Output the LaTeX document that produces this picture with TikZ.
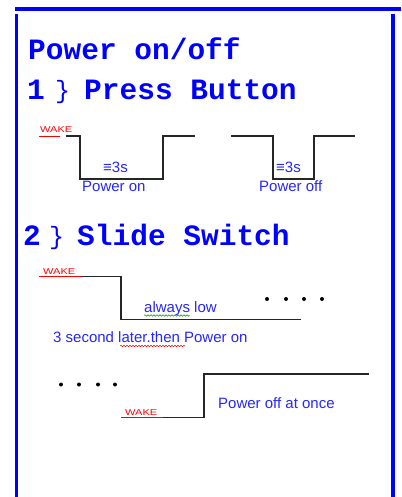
\documentclass[tikz,border=0pt]{standalone}
\usepackage{fontspec}
\usepackage{graphicx}
\usetikzlibrary{decorations.pathmorphing}
\newfontfamily\headfont{Liberation Mono}
\newfontfamily\notefont{Liberation Sans}
\begin{document}
\begin{tikzpicture}[x=1pt,y=-1pt,
    head/.style={anchor=base west,inner sep=0pt,text=blue,font=\headfont\bfseries\fontsize{29.5}{30}\selectfont},
    brace/.style={anchor=base west,inner sep=0pt,text=blue,font=\headfont\fontsize{25}{26}\selectfont},
    note/.style={anchor=base west,inner sep=0pt,text=blue!85!white,font=\notefont\fontsize{15}{16}\selectfont},
    wake/.style={anchor=base west,inner sep=0pt,text=red,font=\notefont\fontsize{8.5}{9}\selectfont},
    wave/.style={black!85,line width=1.1pt},
    frame/.style={blue,line width=3.5pt},
    squiggle/.style={line width=0.5pt,decorate,decoration={snake,segment length=3pt,amplitude=0.8pt}}]
\useasboundingbox (0,0) rectangle (401,497);
% border
\draw[frame,line width=4pt] (15,9.5)--(401,9.5);
\draw[frame] (16.5,14)--(16.5,497);
\draw[frame] (393,14)--(393,497);
% headings
\node[head] (title) at (28,60) {Power on/off};
\node[head] (num1) at (27,100) {1};
\node[brace] (brace1) at (55,99) {\}};
\node[head] (press) at (84,100) {Press Button};
\node[head] (num2) at (23,245) {2};
\node[brace] (brace2) at (49,244) {\}};
\node[head] (slide) at (77,245) {Slide Switch};
% 1) press button
\node[wake] (wake1) at (40,133) {\scalebox{1.3}[1]{WAKE}};
\draw[red,line width=0.9pt] (39,136)--(60,136);
\draw[wave] (66,136)--(80,136)--(80,179)--(163,179)--(163,136)--(195,136);
\draw[wave] (231,136)--(273,136)--(273,179)--(314,179)--(314,136)--(355,136);
\node[note] (on3s) at (103,172) {≡3s};
\node[note] (off3s) at (276,172) {≡3s};
\node[note] (pwron) at (82,191) {Power on};
\node[note] (pwroff) at (259,191) {Power off};
% 2) slide switch
\node[wake] (wake2) at (43,274) {\scalebox{1.3}[1]{WAKE}};
\draw[red,line width=0.9pt] (39,276.5)--(81,276.5);
\draw[wave] (81,276.5)--(121,276.5)--(121,319.5)--(301,319.5);
\node[note] (low) at (144,312.5) {always low};
\draw[green!60!black,squiggle] (144,315.5)--(190,315.5);
\foreach \x in {267,286,304,322} \fill (\x,299) circle (2pt);
\node[note] (later) at (53,342.5) {3 second later.then Power on};
\draw[red,squiggle] (120,346)--(185,346);
\foreach \x in {61,79,98,115} \fill (\x,384.5) circle (2pt);
\node[wake] (wake3) at (125,415) {\scalebox{1.3}[1]{WAKE}};
\draw[red,line width=0.9pt] (121,417.8)--(163,417.8);
\draw[wave] (163,417.8)--(204,417.8)--(204,374)--(369,374);
\node[note] (offnow) at (218,408) {Power off at once};
\end{tikzpicture}
\end{document}
